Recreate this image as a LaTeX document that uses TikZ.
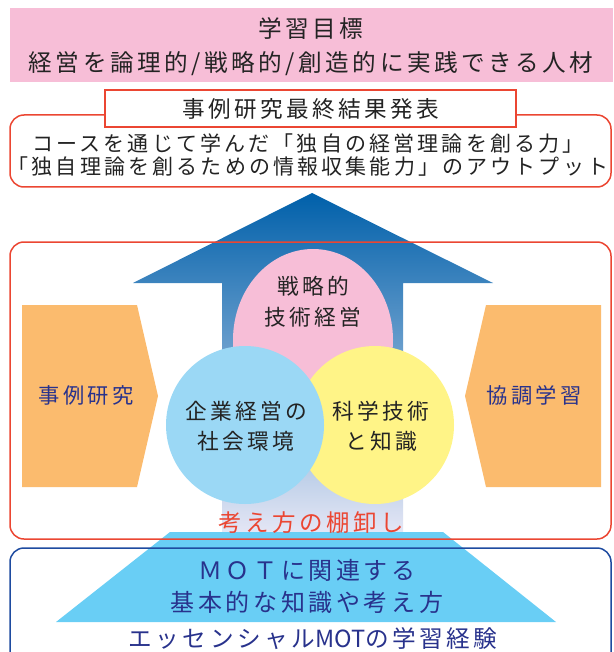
\documentclass[tikz,border=0pt]{standalone}
\usepackage{fontspec}
\setmainfont{Noto Sans CJK JP}[LetterSpace=15]
\newfontfamily\tightjp{Noto Sans CJK JP}
\usepackage{xcolor}
\usepackage{tikz}
\usetikzlibrary{positioning,shapes.geometric}

\definecolor{goalpink}{RGB}{247,190,215}
\definecolor{redline}{RGB}{235,70,50}
\definecolor{blueline}{RGB}{30,75,160}
\definecolor{inkgrey}{RGB}{35,35,35}
\definecolor{inknavy}{RGB}{40,50,140}
\definecolor{caseorange}{RGB}{251,187,110}
\definecolor{socblue}{RGB}{155,216,245}
\definecolor{sciyellow}{RGB}{255,244,135}
\definecolor{baseblue}{RGB}{105,206,245}
\definecolor{arrowtop}{RGB}{0,96,170}
\definecolor{arrowmid}{RGB}{100,135,200}
\definecolor{arrowbot}{RGB}{228,230,245}

\tikzset{
  jp/.style 2 args={font=\fontsize{#1}{#2}\selectfont, align=center, inner sep=0pt},
  frame/.style={line width=1.5pt, rounded corners=14pt}
}

\begin{document}
\begin{tikzpicture}[x=1pt,y=-1pt]
\useasboundingbox (0,0) rectangle (613,652);
\clip (0,0) rectangle (613,652);

% Goal banner
\fill[goalpink] (10,8) rectangle (613,82);
\node[jp={23.6}{34}, text=inkgrey] (goal) at (311,47) {学習目標\\経営を論理的/戦略的/創造的に実践できる人材};

% Final presentation
\draw[frame, redline] (10,115) rectangle (611,187);
\node[jp={21}{23}, text=inkgrey] (output) at (308,155) {コースを通じて学んだ「独自の経営理論を創る力」\\「独自理論を創るための情報収集能力」のアウトプット};
\node[draw=redline, line width=2.5pt, fill=white, minimum width=411pt, minimum height=37pt, inner sep=0pt] (final) at (310.5,108.5) {};
\node[jp={22.6}{22.6}, text=inkgrey] (finaltxt) at (311,109) {事例研究最終結果発表};

% Rising arrow
\shade[top color=arrowtop, middle color=arrowmid, bottom color=arrowbot]
  (312,193) -- (493,283) -- (403,283) -- (403,532) -- (222,532) -- (222,283) -- (133,283) -- cycle;

% Three fields
\fill[goalpink] (313,340) ellipse [x radius=80, y radius=91];
\fill[sciyellow] (375,425) circle (79);
\fill[socblue] (245,425) circle (79);

% Side blocks
\fill[caseorange] (22,305) -- (137,305) -- (158,396) -- (137,487) -- (22,487) -- cycle;
\fill[caseorange] (601,305) -- (486,305) -- (465,396) -- (486,487) -- (601,487) -- cycle;

% Base trapezoid
\fill[baseblue] (170,532) -- (443,532) -- (556,622) -- (56,622) -- cycle;

% Frames
\draw[frame, redline] (10,242) rectangle (611,539);
\draw[frame, blueline] (10,548) rectangle (611,668);

% Labels
\node[jp={21.7}{31}, text=inkgrey] (strat) at (313,302) {戦略的\\技術経営};
\node[jp={21.7}{30}, text=inkgrey] (soc) at (246,426) {企業経営の\\社会環境};
\node[jp={21.7}{30}, text=inkgrey] (sci) at (381,426) {科学技術\\と知識};
\node[jp={21.3}{21.3}, text=inknavy] (case) at (86,395) {事例研究};
\node[jp={21.3}{21.3}, text=inknavy] (coop) at (534,395) {協調学習};
\node[jp={23.5}{23.5}, text=redline] (review) at (311,523) {考え方の棚卸し};
\node[jp={24}{32}, text=inknavy] (basics) at (307,586) {ＭＯＴに関連する\\基本的な知識や考え方};
\node[jp={23.6}{24}, text=inknavy] (essential) at (313,639) {エッセンシャル{\tightjp MOT}の学習経験};

\end{tikzpicture}
\end{document}
